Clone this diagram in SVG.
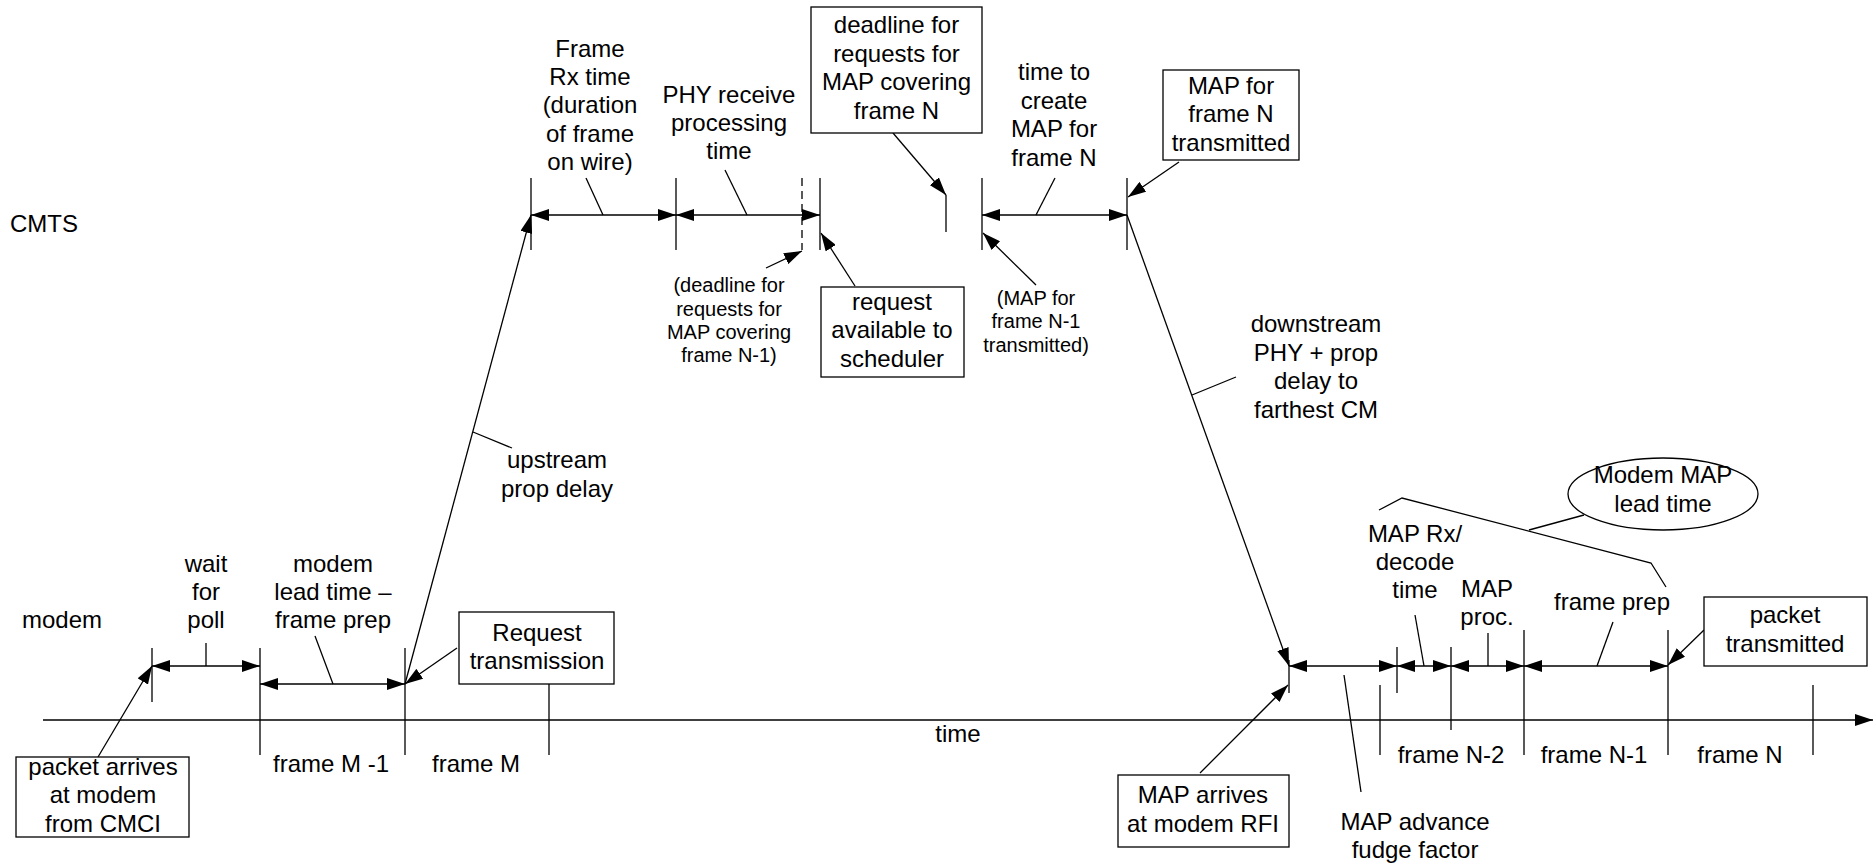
<svg xmlns="http://www.w3.org/2000/svg" width="1873" height="864" viewBox="0 0 1873 864">
<style>
  text { font-family: "Liberation Sans", Arial, sans-serif; font-size: 24px; fill: #000; }
  .c { text-anchor: middle; }
  .s { font-size: 20px; }
  .ln { stroke: #000; stroke-width: 1.3; fill: none; }
  .ar { stroke: #000; stroke-width: 1.3; fill: none; marker-end: url(#ah); }
  .dar { stroke: #000; stroke-width: 1.3; fill: none; marker-start: url(#ah); marker-end: url(#ah); }
  .box { fill: #fff; stroke: #000; stroke-width: 1.3; }
</style>
<defs>
  <marker id="ah" markerWidth="18" markerHeight="12" refX="18" refY="6" orient="auto-start-reverse" markerUnits="userSpaceOnUse">
    <path d="M0,0 L18,6 L0,12 z" fill="#000"/>
  </marker>
</defs>
<rect width="1873" height="864" fill="#fff"/>

<g id="connectors">
  <!-- time axis -->
  <line class="ar" x1="43" y1="720" x2="1873" y2="720"/>
  <!-- modem ticks -->
  <line class="ln" x1="152" y1="648" x2="152" y2="702"/>
  <line class="ln" x1="260" y1="648" x2="260" y2="755"/>
  <line class="ln" x1="405" y1="648" x2="405" y2="755"/>
  <line class="ln" x1="549" y1="684" x2="549" y2="755"/>
  <line class="ln" x1="1289" y1="660" x2="1289" y2="693"/>
  <line class="ln" x1="1380" y1="685" x2="1380" y2="755"/>
  <line class="ln" x1="1397" y1="647" x2="1397" y2="693"/>
  <line class="ln" x1="1451" y1="647" x2="1451" y2="730"/>
  <line class="ln" x1="1524" y1="630" x2="1524" y2="755"/>
  <line class="ln" x1="1668" y1="630" x2="1668" y2="755"/>
  <line class="ln" x1="1813" y1="685" x2="1813" y2="755"/>
  <!-- CMTS ticks -->
  <line class="ln" x1="531" y1="178" x2="531" y2="250"/>
  <line class="ln" x1="676" y1="178" x2="676" y2="250"/>
  <line class="ln" x1="802" y1="178" x2="802" y2="250" stroke-dasharray="8,5"/>
  <line class="ln" x1="820" y1="178" x2="820" y2="250"/>
  <line class="ln" x1="946" y1="195" x2="946" y2="232"/>
  <line class="ln" x1="982" y1="178" x2="982" y2="250"/>
  <line class="ln" x1="1127" y1="178" x2="1127" y2="250"/>
  <!-- spans -->
  <line class="dar" x1="152" y1="666" x2="260" y2="666"/>
  <line class="dar" x1="260" y1="684" x2="405" y2="684"/>
  <line class="dar" x1="531" y1="215" x2="676" y2="215"/>
  <line class="dar" x1="676" y1="215" x2="820" y2="215"/>
  <line class="dar" x1="982" y1="215" x2="1127" y2="215"/>
  <line class="dar" x1="1289" y1="666" x2="1397" y2="666"/>
  <line class="dar" x1="1397" y1="666" x2="1451" y2="666"/>
  <line class="dar" x1="1451" y1="666" x2="1524" y2="666"/>
  <line class="dar" x1="1524" y1="666" x2="1668" y2="666"/>
  <!-- pointer arrows -->
  <line class="ar" x1="98" y1="757" x2="152" y2="666"/>
  <line class="ar" x1="457" y1="648" x2="405" y2="684"/>
  <line class="ar" x1="405" y1="684" x2="531" y2="215"/>
  <line class="ar" x1="766" y1="268" x2="802" y2="251"/>
  <line class="ar" x1="855" y1="286" x2="821" y2="233"/>
  <line class="ar" x1="893" y1="133" x2="946" y2="195"/>
  <line class="ar" x1="1036" y1="285" x2="983" y2="233"/>
  <line class="ar" x1="1179" y1="162" x2="1128" y2="197"/>
  <line class="ar" x1="1127" y1="215" x2="1289" y2="666"/>
  <line class="ar" x1="1200" y1="773" x2="1288" y2="685"/>
  <line class="ar" x1="1704" y1="630" x2="1668" y2="665"/>
  <!-- label leaders -->
  <line class="ln" x1="206" y1="643" x2="206" y2="666"/>
  <line class="ln" x1="315" y1="636" x2="333" y2="684"/>
  <line class="ln" x1="473" y1="432" x2="512" y2="448"/>
  <line class="ln" x1="586" y1="178" x2="603" y2="215"/>
  <line class="ln" x1="725" y1="170" x2="747" y2="215"/>
  <line class="ln" x1="1055" y1="178" x2="1036" y2="215"/>
  <line class="ln" x1="1192" y1="395" x2="1236" y2="377"/>
  <line class="ln" x1="1344" y1="675" x2="1361" y2="792"/>
  <line class="ln" x1="1415" y1="615" x2="1424" y2="666"/>
  <line class="ln" x1="1488" y1="633" x2="1488" y2="666"/>
  <line class="ln" x1="1613" y1="622" x2="1597" y2="666"/>
  <polyline class="ln" points="1379,510 1402,498 1651,563 1666,587"/>
  <line class="ln" x1="1584" y1="515" x2="1529" y2="530"/>
</g>

<g id="lbl-cmts"><text x="10" y="232">CMTS</text></g>
<g id="lbl-modem"><text x="22" y="628">modem</text></g>
<g id="lbl-time"><text class="c" x="958" y="742">time</text></g>

<g id="lbl-wait"><text class="c" x="206" y="572">wait</text><text class="c" x="206" y="600">for</text><text class="c" x="206" y="628">poll</text></g>
<g id="lbl-modem-lead"><text class="c" x="333" y="572">modem</text><text class="c" x="333" y="600">lead time –</text><text class="c" x="333" y="628">frame prep</text></g>
<g id="lbl-upstream"><text class="c" x="557" y="468">upstream</text><text class="c" x="557" y="497">prop delay</text></g>
<g id="lbl-frames-m"><text class="c" x="331" y="772">frame M -1</text><text class="c" x="476" y="772">frame M</text></g>

<g id="box-packet-arrives">
  <rect class="box" x="16" y="757" width="173" height="80"/>
  <text class="c" x="103" y="775">packet arrives</text><text class="c" x="103" y="803">at modem</text><text class="c" x="103" y="832">from CMCI</text>
</g>
<g id="box-request-tx">
  <rect class="box" x="459" y="612" width="155" height="72"/>
  <text class="c" x="537" y="641">Request</text><text class="c" x="537" y="669">transmission</text>
</g>

<g id="lbl-frame-rx"><text class="c" x="590" y="57">Frame</text><text class="c" x="590" y="85">Rx time</text><text class="c" x="590" y="113">(duration</text><text class="c" x="590" y="142">of frame</text><text class="c" x="590" y="170">on wire)</text></g>
<g id="lbl-phy"><text class="c" x="729" y="103">PHY receive</text><text class="c" x="729" y="131">processing</text><text class="c" x="729" y="159">time</text></g>
<g id="lbl-deadline-n1"><text class="c s" x="729" y="292">(deadline for</text><text class="c s" x="729" y="316">requests for</text><text class="c s" x="729" y="339">MAP covering</text><text class="c s" x="729" y="362">frame N-1)</text></g>

<g id="box-request-avail">
  <rect class="box" x="821" y="287" width="143" height="90"/>
  <text class="c" x="892" y="310">request</text><text class="c" x="892" y="338">available to</text><text class="c" x="892" y="367">scheduler</text>
</g>
<g id="box-deadline-n">
  <rect class="box" x="811" y="7" width="171" height="126"/>
  <text class="c" x="896.5" y="33">deadline for</text><text class="c" x="896.5" y="61.5">requests for</text><text class="c" x="896.5" y="90">MAP covering</text><text class="c" x="896.5" y="118.5">frame N</text>
</g>
<g id="lbl-create-map"><text class="c" x="1054" y="80">time to</text><text class="c" x="1054" y="108.5">create</text><text class="c" x="1054" y="137">MAP for</text><text class="c" x="1054" y="165.5">frame N</text></g>
<g id="lbl-map-n1"><text class="c s" x="1036" y="305">(MAP for</text><text class="c s" x="1036" y="328">frame N-1</text><text class="c s" x="1036" y="352">transmitted)</text></g>
<g id="box-map-n-tx">
  <rect class="box" x="1163" y="70" width="136" height="90"/>
  <text class="c" x="1231" y="94">MAP for</text><text class="c" x="1231" y="122">frame N</text><text class="c" x="1231" y="151">transmitted</text>
</g>
<g id="lbl-downstream"><text class="c" x="1316" y="332">downstream</text><text class="c" x="1316" y="360.5">PHY + prop</text><text class="c" x="1316" y="389">delay to</text><text class="c" x="1316" y="417.5">farthest CM</text></g>

<g id="box-map-arrives">
  <rect class="box" x="1118" y="775" width="171" height="72"/>
  <text class="c" x="1203" y="803">MAP arrives</text><text class="c" x="1203" y="832">at modem RFI</text>
</g>
<g id="lbl-fudge"><text class="c" x="1415" y="830">MAP advance</text><text class="c" x="1415" y="858">fudge factor</text></g>
<g id="lbl-map-rx"><text class="c" x="1415" y="542">MAP Rx/</text><text class="c" x="1415" y="570">decode</text><text class="c" x="1415" y="598">time</text></g>
<g id="lbl-map-proc"><text class="c" x="1487" y="597">MAP</text><text class="c" x="1487" y="625">proc.</text></g>
<g id="lbl-frame-prep"><text class="c" x="1612" y="610">frame prep</text></g>
<g id="box-packet-tx">
  <rect class="box" x="1704" y="597" width="163" height="69"/>
  <text class="c" x="1785" y="623">packet</text><text class="c" x="1785" y="652">transmitted</text>
</g>
<g id="lbl-frames-n"><text class="c" x="1451" y="763">frame N-2</text><text class="c" x="1594" y="763">frame N-1</text><text class="c" x="1740" y="763">frame N</text></g>
<g id="ellipse-lead-time">
  <ellipse class="box" cx="1663" cy="494" rx="95" ry="36"/>
  <text class="c" x="1663" y="483">Modem MAP</text><text class="c" x="1663" y="512">lead time</text>
</g>
</svg>
